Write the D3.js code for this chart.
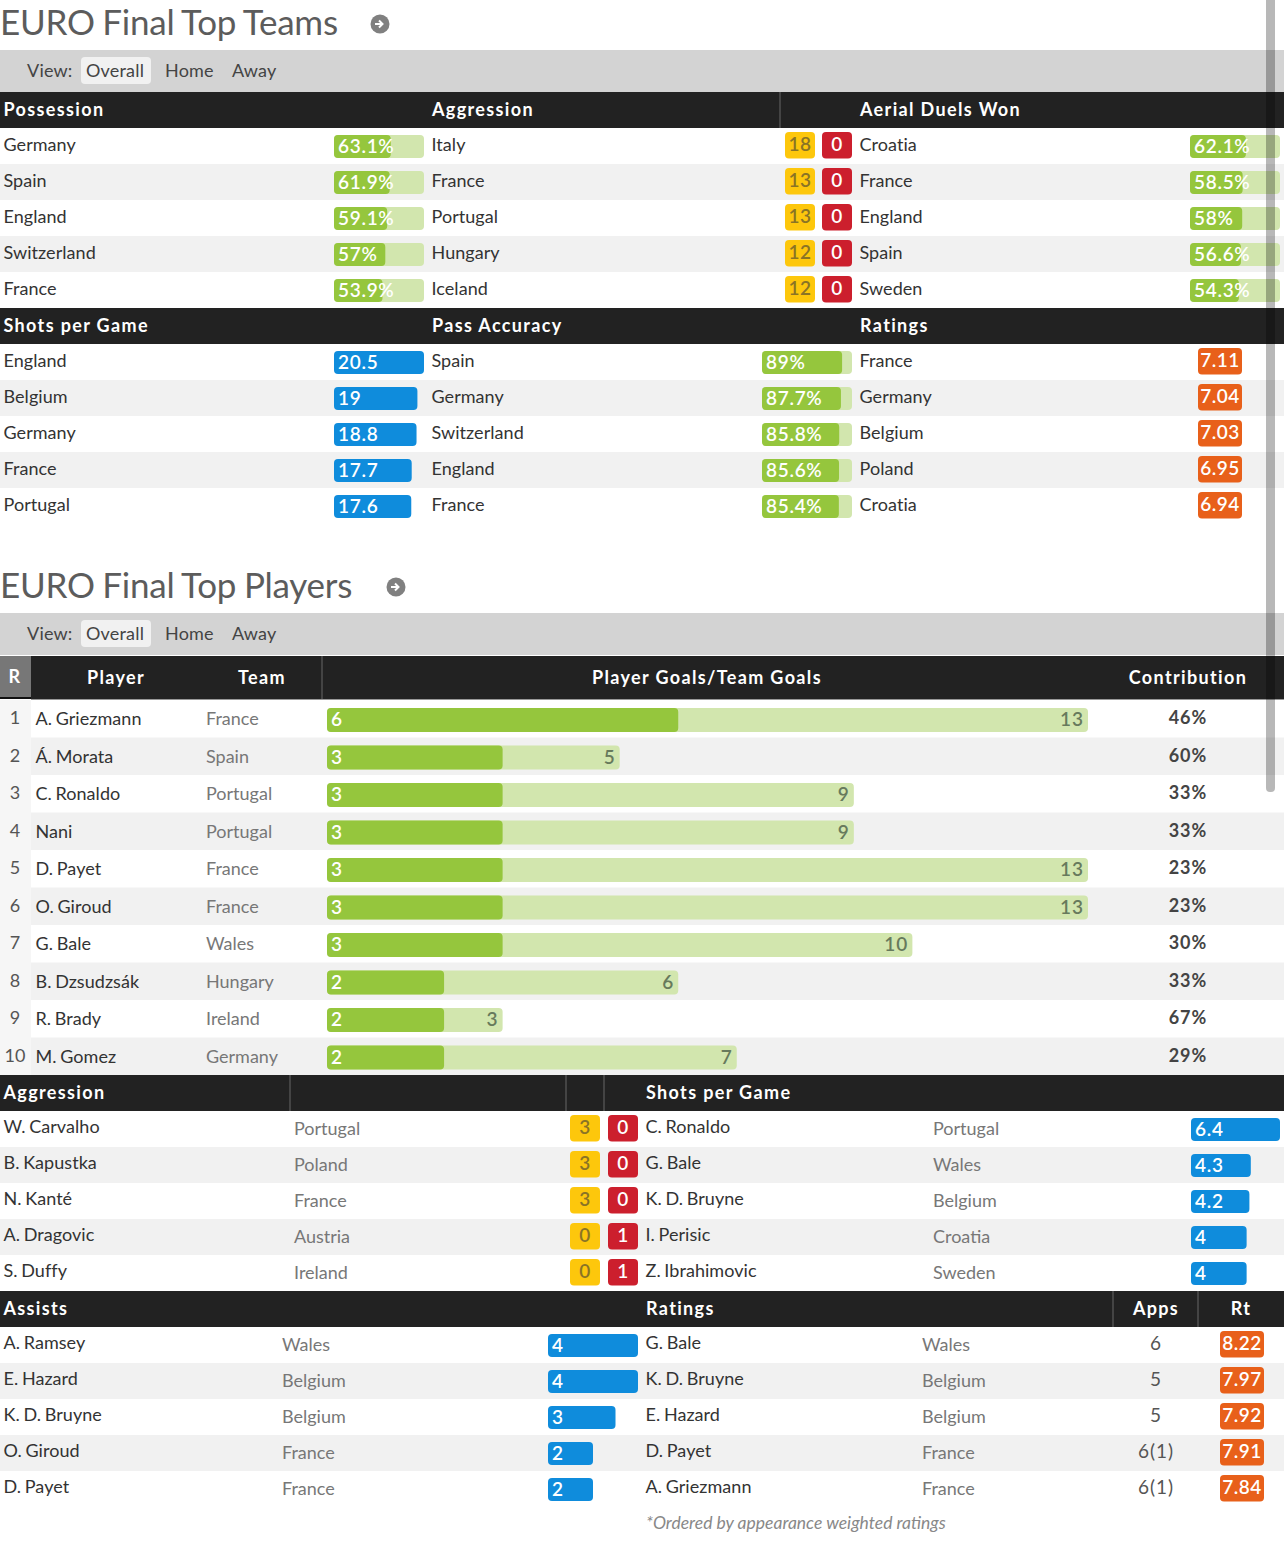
<!DOCTYPE html>
<html>
<head>
<meta charset="utf-8">
<script src="https://cdnjs.cloudflare.com/ajax/libs/d3/7.8.5/d3.min.js"></script>
<style>
  html, body { margin: 0; padding: 0; background: #fff; overflow: hidden; }
  svg { display: block; }
  text { font-family: Lato, "Open Sans", sans-serif; }
  .head { fill: #fff; font-weight: 700; font-size: 18px; letter-spacing: 1.35px; }
  .name { fill: #333; font-size: 18px; word-spacing: -1px; letter-spacing: 0.05px; }
  .team { fill: #777; font-size: 18px; }
  .apps { fill: #555; font-size: 19px; letter-spacing: 1px; }
  .rank { fill: #555; font-size: 18px; }
  .val { fill: #fff; font-size: 19px; font-weight: 600; letter-spacing: 0.7px; }
</style>
</head>
<body>
<div id="chart"></div>
<script>
// top teams
var possessionTeams = ['Germany', 'Spain', 'England', 'Switzerland', 'France'];
var possessionValues = [63.1, 61.9, 59.1, 57, 53.9];
var possessionLabels = ['63.1%', '61.9%', '59.1%', '57%', '53.9%'];
var aggressionTeams = ['Italy', 'France', 'Portugal', 'Hungary', 'Iceland'];
var aggressionYellow = [18, 13, 13, 12, 12];
var aggressionRed = [0, 0, 0, 0, 0];
var aerialTeams = ['Croatia', 'France', 'England', 'Spain', 'Sweden'];
var aerialValues = [62.1, 58.5, 58, 56.6, 54.3];
var aerialLabels = ['62.1%', '58.5%', '58%', '56.6%', '54.3%'];
var shotsTeams = ['England', 'Belgium', 'Germany', 'France', 'Portugal'];
var shotsValues = [20.5, 19, 18.8, 17.7, 17.6];
var shotsLabels = ['20.5', '19', '18.8', '17.7', '17.6'];
var passTeams = ['Spain', 'Germany', 'Switzerland', 'England', 'France'];
var passValues = [89, 87.7, 85.8, 85.6, 85.4];
var passLabels = ['89%', '87.7%', '85.8%', '85.6%', '85.4%'];
var ratingTeams = ['France', 'Germany', 'Belgium', 'Poland', 'Croatia'];
var ratingValues = ['7.11', '7.04', '7.03', '6.95', '6.94'];

// top players
var ranks = [1, 2, 3, 4, 5, 6, 7, 8, 9, 10];
var goalPlayers = ['A. Griezmann', 'Á. Morata', 'C. Ronaldo', 'Nani', 'D. Payet', 'O. Giroud', 'G. Bale', 'B. Dzsudzsák', 'R. Brady', 'M. Gomez'];
var goalTeams = ['France', 'Spain', 'Portugal', 'Portugal', 'France', 'France', 'Wales', 'Hungary', 'Ireland', 'Germany'];
var playerGoals = [6, 3, 3, 3, 3, 3, 3, 2, 2, 2];
var teamGoals = [13, 5, 9, 9, 13, 13, 10, 6, 3, 7];
var contributions = ['46%', '60%', '33%', '33%', '23%', '23%', '30%', '33%', '67%', '29%'];

var aggPlayers = ['W. Carvalho', 'B. Kapustka', 'N. Kanté', 'A. Dragovic', 'S. Duffy'];
var aggPlayerTeams = ['Portugal', 'Poland', 'France', 'Austria', 'Ireland'];
var aggPlayerYellow = [3, 3, 3, 0, 0];
var aggPlayerRed = [0, 0, 0, 1, 1];
var shotPlayers = ['C. Ronaldo', 'G. Bale', 'K. D. Bruyne', 'I. Perisic', 'Z. Ibrahimovic'];
var shotPlayerTeams = ['Portugal', 'Wales', 'Belgium', 'Croatia', 'Sweden'];
var shotPlayerValues = [6.4, 4.3, 4.2, 4, 4];
var assistPlayers = ['A. Ramsey', 'E. Hazard', 'K. D. Bruyne', 'O. Giroud', 'D. Payet'];
var assistTeams = ['Wales', 'Belgium', 'Belgium', 'France', 'France'];
var assistValues = [4, 4, 3, 2, 2];
var ratedPlayers = ['G. Bale', 'K. D. Bruyne', 'E. Hazard', 'D. Payet', 'A. Griezmann'];
var ratedTeams = ['Wales', 'Belgium', 'Belgium', 'France', 'France'];
var ratedApps = ['6', '5', '5', '6(1)', '6(1)'];
var ratedValues = ['8.22', '7.97', '7.92', '7.91', '7.84'];

var green = '#95c63d', greenLight = '#d2e6ae', blue = '#0f8cdc', orange = '#e8601a';
var yellow = '#fdc70c', red = '#cc1f2d', dark = '#222';

var svg = d3.select('#chart').append('svg').attr('width', 1284).attr('height', 1541);

function rowScale(top, count, step) {
  return d3.scaleBand().domain(d3.range(count)).range([top, top + count * step]);
}

function stripes(y) {
  svg.append('g').selectAll('rect').data(y.domain().filter(function(d) { return d % 2 === 1; }))
    .enter().append('rect')
    .attr('x', 0).attr('width', 1284)
    .attr('y', function(d) { return y(d); }).attr('height', y.bandwidth())
    .attr('fill', '#f1f1f1');
}

function headerBar(top, height, labels, separators) {
  svg.append('rect').attr('x', 0).attr('y', top).attr('width', 1284).attr('height', height).attr('fill', dark);
  svg.append('g').selectAll('line').data(separators).enter().append('line')
    .attr('x1', function(d) { return d; }).attr('x2', function(d) { return d; })
    .attr('y1', top).attr('y2', top + height)
    .attr('stroke', '#666').attr('stroke-width', 1);
  svg.append('g').selectAll('text').data(labels).enter().append('text')
    .attr('class', 'head')
    .attr('x', function(d) { return d[1]; })
    .attr('y', top + height / 2 + 6)
    .attr('text-anchor', function(d) { return d[2] || 'start'; })
    .text(function(d) { return d[0]; });
}

function textColumn(values, y, x, cls, dy, anchor) {
  svg.append('g').selectAll('text').data(values).enter().append('text')
    .attr('class', cls)
    .attr('x', x)
    .attr('y', function(d, i) { return y(i) + dy; })
    .attr('text-anchor', anchor || 'start')
    .text(function(d) { return d; });
}

// bar with an optional pale track behind it
function bars(values, labels, y, x0, domainMax, maxWidth, color, trackWidth) {
  var w = d3.scaleLinear().domain([0, domainMax]).range([0, maxWidth]);
  var g = svg.append('g');
  if (trackWidth) {
    g.selectAll('rect.track').data(values).enter().append('rect').attr('class', 'track')
      .attr('x', x0).attr('y', function(d, i) { return y(i) + 7; })
      .attr('width', trackWidth).attr('height', 23).attr('rx', 4).attr('fill', greenLight);
  }
  g.selectAll('rect.bar').data(values).enter().append('rect').attr('class', 'bar')
    .attr('x', x0).attr('y', function(d, i) { return y(i) + 7; })
    .attr('width', function(d) { return w(d); }).attr('height', 23).attr('rx', 4).attr('fill', color);
  g.selectAll('text').data(labels).enter().append('text')
    .attr('class', 'val')
    .attr('x', x0 + 4).attr('y', function(d, i) { return y(i) + 25; })
    .text(function(d) { return d; });
}

function badges(values, y, x0, width, color, textColor) {
  var g = svg.append('g');
  g.selectAll('rect').data(values).enter().append('rect')
    .attr('x', x0).attr('y', function(d, i) { return y(i) + 4; })
    .attr('width', width).attr('height', 26.5).attr('rx', 4).attr('fill', color);
  g.selectAll('text').data(values).enter().append('text')
    .attr('x', x0 + width / 2).attr('y', function(d, i) { return y(i) + 23; })
    .attr('text-anchor', 'middle')
    .attr('font-size', 19).attr('font-weight', 600).attr('letter-spacing', 0.5)
    .attr('fill', textColor)
    .text(function(d) { return d; });
}

function titleBlock(title, titleY, iconX, barTop, barHeight) {
  svg.append('text').attr('x', 0).attr('y', titleY)
    .attr('font-size', 35).attr('font-weight', 400).attr('letter-spacing', -0.25).attr('word-spacing', -1)
    .attr('fill', '#5c5c5c').text(title);
  svg.append('circle').attr('cx', iconX).attr('cy', titleY - 11).attr('r', 9.5).attr('fill', '#808080');
  svg.append('path')
    .attr('d', 'M' + (iconX - 5) + ',' + (titleY - 11) + 'h7m-3,-3.5l3.5,3.5l-3.5,3.5')
    .attr('fill', 'none').attr('stroke', '#fff').attr('stroke-width', 2);
  svg.append('rect').attr('x', 0).attr('y', barTop).attr('width', 1284).attr('height', barHeight).attr('fill', '#d3d3d3');
  svg.append('rect').attr('x', 81).attr('y', barTop + 7).attr('width', 70).attr('height', 27).attr('rx', 4).attr('fill', '#f1f1f1');
  var tabs = [['View:', 27], ['Overall', 86], ['Home', 165], ['Away', 232]];
  svg.append('g').selectAll('text').data(tabs).enter().append('text')
    .attr('x', function(d) { return d[1]; }).attr('y', barTop + 27)
    .attr('font-size', 18).attr('letter-spacing', 0.2).attr('fill', '#444')
    .text(function(d) { return d[0]; });
}

// ---- top teams ----
titleBlock('EURO Final Top Teams', 35, 380, 50, 42);

var rowsA = rowScale(128, 5, 36);
var rowsB = rowScale(344, 5, 36);
stripes(rowsA);
stripes(rowsB);
headerBar(92, 36, [['Possession', 3.5], ['Aggression', 432], ['Aerial Duels Won', 860]], [780]);
headerBar(308, 36, [['Shots per Game', 3.5], ['Pass Accuracy', 432], ['Ratings', 860]], []);

textColumn(possessionTeams, rowsA, 3.5, 'name', 23);
bars(possessionValues, possessionLabels, rowsA, 334, 100, 90, green, 90);
textColumn(aggressionTeams, rowsA, 431.5, 'name', 23);
badges(aggressionYellow, rowsA, 785, 30, yellow, '#8a7426');
badges(aggressionRed, rowsA, 822, 30, red, '#fff');
textColumn(aerialTeams, rowsA, 859.5, 'name', 23);
bars(aerialValues, aerialLabels, rowsA, 1190, 100, 90, green, 90);

textColumn(shotsTeams, rowsB, 3.5, 'name', 23);
bars(shotsValues, shotsLabels, rowsB, 334, 20.5, 90, blue);
textColumn(passTeams, rowsB, 431.5, 'name', 23);
bars(passValues, passLabels, rowsB, 762, 100, 90, green, 90);
textColumn(ratingTeams, rowsB, 859.5, 'name', 23);
badges(ratingValues, rowsB, 1198, 44, orange, '#fff');

// ---- top players ----
titleBlock('EURO Final Top Players', 598, 396, 613, 42);

var rowsC = rowScale(700, 10, 37.5);
stripes(rowsC);
svg.append('rect').attr('x', 0).attr('y', 700).attr('width', 31).attr('height', 375).attr('fill', '#f6f6f6');
headerBar(656, 43, [['Player', 116, 'middle'], ['Team', 262, 'middle'], ['Player Goals/Team Goals', 707, 'middle'], ['Contribution', 1188, 'middle']], [322]);
svg.append('rect').attr('x', 0).attr('y', 656).attr('width', 31).attr('height', 41).attr('fill', '#777');
svg.append('rect').attr('x', 0).attr('y', 697).attr('width', 31).attr('height', 2).attr('fill', '#111');
svg.append('text').attr('class', 'head').attr('x', 15).attr('y', 683).attr('text-anchor', 'middle').text('R');
svg.append('rect').attr('x', 31).attr('y', 699).attr('width', 1253).attr('height', 1).attr('fill', '#999');

textColumn(ranks, rowsC, 15, 'rank', 24, 'middle');
textColumn(goalPlayers, rowsC, 35.5, 'name', 25);
textColumn(goalTeams, rowsC, 206, 'team', 25);

var goalWidth = d3.scaleLinear().domain([0, 13]).range([0, 761]);
var goalG = svg.append('g');
goalG.selectAll('rect.total').data(teamGoals).enter().append('rect').attr('class', 'total')
  .attr('x', 327).attr('y', function(d, i) { return rowsC(i) + 8; })
  .attr('width', function(d) { return goalWidth(d); }).attr('height', 24).attr('rx', 4).attr('fill', greenLight);
goalG.selectAll('rect.scored').data(playerGoals).enter().append('rect').attr('class', 'scored')
  .attr('x', 327).attr('y', function(d, i) { return rowsC(i) + 8; })
  .attr('width', function(d) { return goalWidth(d); }).attr('height', 24).attr('rx', 4).attr('fill', green);
goalG.selectAll('text.scored').data(playerGoals).enter().append('text').attr('class', 'val scored')
  .attr('x', 331).attr('y', function(d, i) { return rowsC(i) + 26; })
  .text(function(d) { return d; });
goalG.selectAll('text.total').data(teamGoals).enter().append('text').attr('class', 'total')
  .attr('x', function(d) { return 327 + goalWidth(d) - 4; })
  .attr('y', function(d, i) { return rowsC(i) + 26; })
  .attr('text-anchor', 'end').attr('font-size', 19).attr('font-weight', 600).attr('letter-spacing', 1)
  .attr('fill', '#677a5c')
  .text(function(d) { return d; });

svg.append('g').selectAll('text').data(contributions).enter().append('text')
  .attr('x', 1188).attr('y', function(d, i) { return rowsC(i) + 24; })
  .attr('text-anchor', 'middle').attr('font-size', 18).attr('font-weight', 700).attr('letter-spacing', 1)
  .attr('fill', '#444')
  .text(function(d) { return d; });

var rowsD = rowScale(1111, 5, 36);
var rowsE = rowScale(1327, 5, 36);
stripes(rowsD);
stripes(rowsE);
headerBar(1075, 36, [['Aggression', 3.5], ['Shots per Game', 646]], [290, 566, 604]);
headerBar(1291, 36, [['Assists', 3.5], ['Ratings', 646], ['Apps', 1156, 'middle'], ['Rt', 1241, 'middle']], [1113, 1198]);

textColumn(aggPlayers, rowsD, 3.5, 'name', 22);
textColumn(aggPlayerTeams, rowsD, 294, 'team', 24);
badges(aggPlayerYellow, rowsD, 570, 30, yellow, '#8a7426');
badges(aggPlayerRed, rowsD, 608, 30, red, '#fff');
textColumn(shotPlayers, rowsD, 645.5, 'name', 22);
textColumn(shotPlayerTeams, rowsD, 933, 'team', 24);
bars(shotPlayerValues, shotPlayerValues, rowsD, 1191, 6.4, 89, blue);

textColumn(assistPlayers, rowsE, 3.5, 'name', 22);
textColumn(assistTeams, rowsE, 282, 'team', 24);
bars(assistValues, assistValues, rowsE, 548, 4, 90, blue);
textColumn(ratedPlayers, rowsE, 645.5, 'name', 22);
textColumn(ratedTeams, rowsE, 922, 'team', 24);
textColumn(ratedApps, rowsE, 1156, 'apps', 23, 'middle');
badges(ratedValues, rowsE, 1220, 44, orange, '#fff');

svg.append('text').attr('x', 646).attr('y', 1529)
  .attr('font-size', 17.5).attr('font-style', 'italic').attr('fill', '#888')
  .text('*Ordered by appearance weighted ratings');

// scrollbar overlay from the phone screenshot
svg.append('rect').attr('x', 1266).attr('y', -6).attr('width', 9).attr('height', 798).attr('rx', 4)
  .attr('fill', '#000').attr('fill-opacity', 0.28);
</script>
</body>
</html>
